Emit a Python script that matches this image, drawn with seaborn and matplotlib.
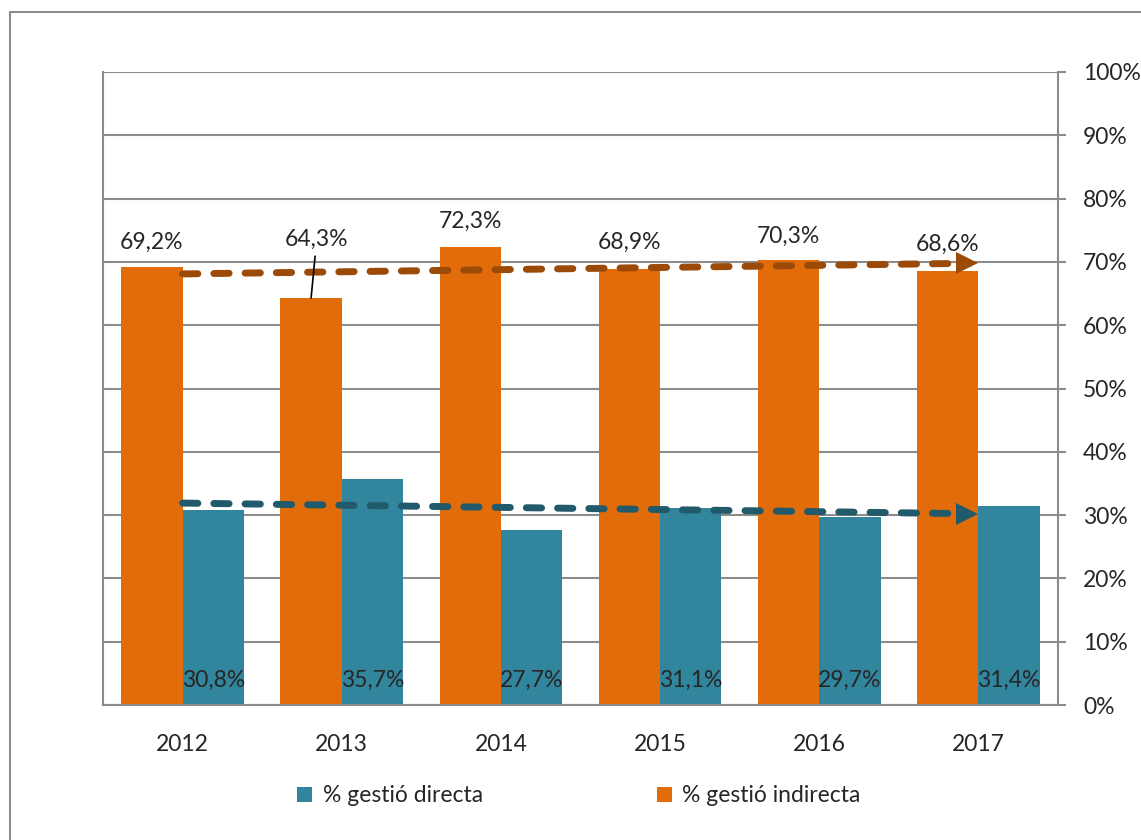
import matplotlib
matplotlib.use("Agg")
import matplotlib.pyplot as plt
from matplotlib.lines import Line2D
from matplotlib.patches import Patch
import seaborn as sns
import pandas as pd
import numpy as np

years = ["2012", "2013", "2014", "2015", "2016", "2017"]
indirecta = [69.2, 64.3, 72.3, 68.9, 70.3, 68.6]
directa = [30.8, 35.7, 27.7, 31.1, 29.7, 31.4]
trend_indirecta = [68.1, 69.8]   # trend line values at 2012 and 2017
trend_directa = [31.9, 30.2]
lab_ind = "% gestió indirecta"
lab_dir = "% gestió directa"
yticks = [0, 10, 20, 30, 40, 50, 60, 70, 80, 90, 100]

c_ind = "#E36C0A"
c_dir = "#31859C"
c_tind = "#9C4A08"
c_tdir = "#215A6B"
grid_c = "#8C8C8C"
FS = 16.5

sns.set_style("white")
plt.rcParams["font.family"] = ["Lato", "DejaVu Sans"]

df = pd.DataFrame({
    "year": years * 2,
    "value": indirecta + directa,
    "serie": [lab_ind] * len(years) + [lab_dir] * len(years),
})

fig = plt.figure(figsize=(11.41, 8.4), dpi=100)
ax = fig.add_axes([103 / 1141, 1 - 705 / 840, (1058 - 103) / 1141, (705 - 72) / 840])

sns.barplot(data=df, x="year", y="value", hue="serie", hue_order=[lab_ind, lab_dir],
            palette=[c_ind, c_dir], width=0.77, saturation=1, ax=ax, legend=False,
            edgecolor="none", linewidth=0, zorder=2)

ax.set_xlim(-0.5, len(years) - 0.5)
ax.set_ylim(0, 100)
ax.set_yticks(yticks)
ax.set_yticklabels([f"{t}%" for t in yticks])
ax.yaxis.tick_right()
ax.set_xlabel("")
ax.set_ylabel("")
for t in yticks:
    ax.axhline(t, color=grid_c, lw=1.5, zorder=1)
for s in ["left", "right", "bottom"]:
    ax.spines[s].set_color(grid_c)
    ax.spines[s].set_linewidth(1.5)
ax.spines["top"].set_visible(False)
ax.tick_params(axis="y", which="major", length=6, width=1.5, color=grid_c,
               labelsize=FS, pad=12, right=True, left=False)
ax.tick_params(axis="x", which="major", length=0, labelsize=FS, pad=21)
ax.set_xticks(np.arange(-0.5, len(years)), minor=True)
ax.tick_params(axis="x", which="minor", length=7, width=1.5, color=grid_c)
for lbl in ax.get_yticklabels():
    lbl.set_horizontalalignment("left")

# data labels
ind_bars = ax.containers[0]
dir_bars = ax.containers[1]
offsets = [(0, 18), (4, 42), (0, 19), (0, 19), (0, 17), (0, 19)]
for i, (bar, v) in enumerate(zip(ind_bars, indirecta)):
    cx = bar.get_x() + bar.get_width() / 2
    dx, dy = offsets[i]
    txt = f"{v:.1f}%".replace(".", ",")
    if dy > 30:
        ax.annotate(txt, xy=(cx, v), xytext=(dx, dy), textcoords="offset points",
                    ha="center", va="center", fontsize=FS, zorder=5,
                    arrowprops=dict(arrowstyle="-", color="black", lw=1.2,
                                    shrinkA=2, shrinkB=0))
    else:
        ax.annotate(txt, xy=(cx, v), xytext=(dx, dy), textcoords="offset points",
                    ha="center", va="center", fontsize=FS, zorder=5)
for bar, v in zip(dir_bars, directa):
    cx = bar.get_x() + bar.get_width() / 2
    txt = f"{v:.1f}%".replace(".", ",")
    ax.annotate(txt, xy=(cx, 0), xytext=(0, 18), textcoords="offset points",
                ha="center", va="center", fontsize=FS, zorder=5)

# trend lines with arrowheads
x0, x1 = 0, len(years) - 1
head = 11 / 159.2
for tr, col in [(trend_indirecta, c_tind), (trend_directa, c_tdir)]:
    xe = x1 - head
    ye = tr[0] + (tr[1] - tr[0]) * (xe - x0) / (x1 - x0)
    ax.plot([x0, xe], [tr[0], ye], color=col, lw=5, dashes=(2.2, 2.3),
            dash_capstyle="round", solid_capstyle="round", zorder=4)
    ax.plot([xe], [ye], marker=">", markersize=16, color=col,
            markeredgewidth=0, zorder=4)

# legend
handles = [Patch(facecolor=c_dir, edgecolor="none"), Patch(facecolor=c_ind, edgecolor="none")]
fig.legend(handles, [lab_dir, lab_ind], loc="center", bbox_to_anchor=(579 / 1141, 1 - 796 / 840),
           ncol=2, frameon=False, fontsize=FS, handlelength=0.65, handleheight=0.65,
           handletextpad=0.45, columnspacing=7.6)

# outer chart border
fig.add_artist(Line2D([10 / 1141, 1.0], [1 - 12 / 840, 1 - 12 / 840],
                      transform=fig.transFigure, color=grid_c, lw=1.5))
fig.add_artist(Line2D([10 / 1141, 10 / 1141], [0, 1 - 12 / 840],
                      transform=fig.transFigure, color=grid_c, lw=1.5))

fig.savefig("out.png", dpi=100, facecolor="white")
